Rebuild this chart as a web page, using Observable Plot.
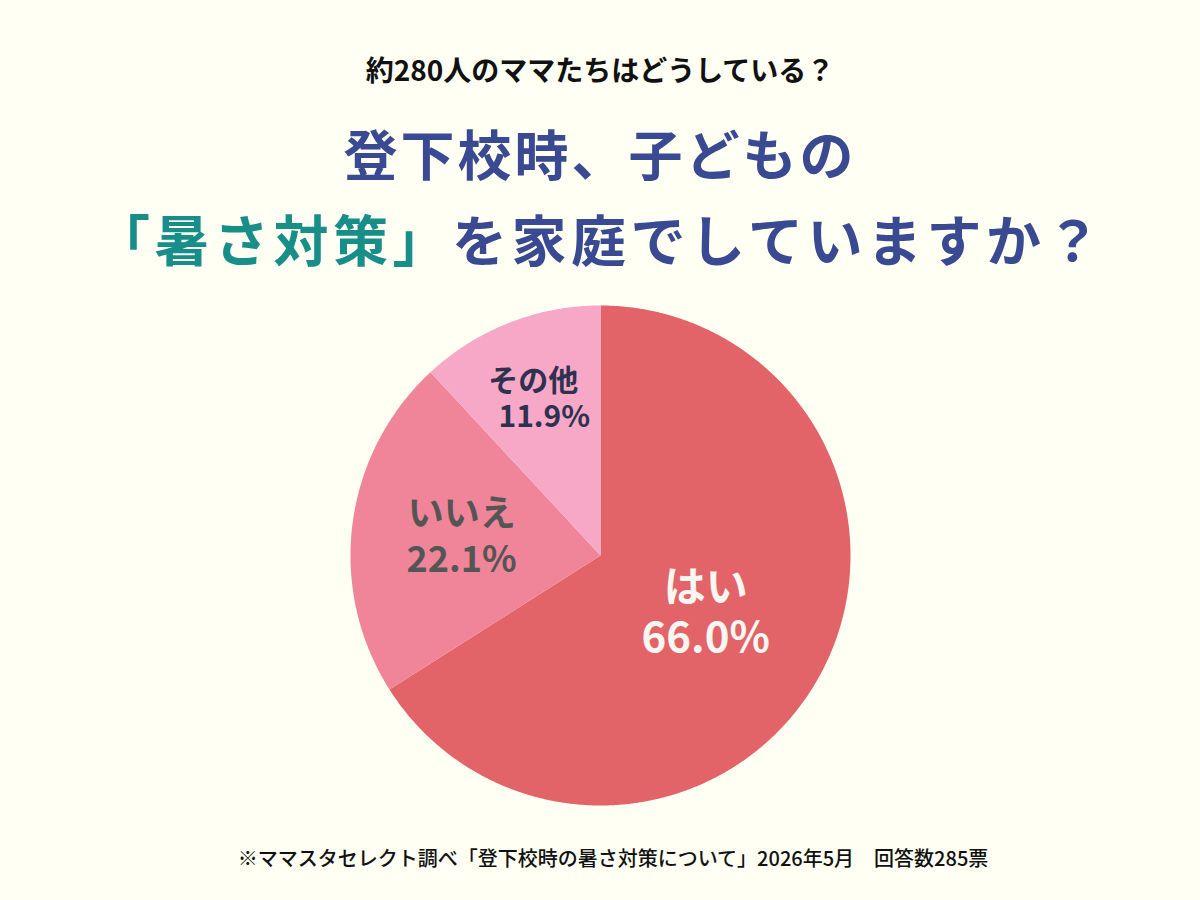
<!DOCTYPE html>
<html><head><meta charset="utf-8">
<script src="https://cdn.jsdelivr.net/npm/d3@7"></script>
<script src="https://cdn.jsdelivr.net/npm/@observablehq/plot@0.6"></script>
<style>
html,body{margin:0;padding:0;background:#FFFFF3;}
body{width:1200px;height:900px;position:relative;overflow:hidden;font-family:"Noto Sans CJK JP","Noto Sans",sans-serif;}
.t{position:absolute;left:0;width:1200px;text-align:center;white-space:nowrap;}
#sub{top:50px;font-size:28px;font-weight:700;color:#111;line-height:38px;}
#l1{top:117px;font-size:54px;font-weight:700;color:#3A4A92;line-height:72px;letter-spacing:3px;}
#l2{top:201px;font-size:55px;font-weight:700;color:#3A4A92;line-height:72px;letter-spacing:4.5px;}
#l2 .hl{color:#178F88;}
#chart{position:absolute;left:0;top:285px;}
#foot{top:843px;left:13px;font-size:20px;font-weight:500;color:#111;line-height:30px;}
</style></head>
<body>
<div class="t" id="sub">約280人のママたちはどうしている？</div>
<div class="t" id="l1">登下校時、子どもの</div>
<div class="t" id="l2"><span class="hl">「暑さ対策」</span>を家庭でしていますか？</div>
<div id="chart"></div>
<div class="t" id="foot">※ママスタセレクト調べ「登下校時の暑さ対策について」2026年5月　回答数285票</div>
<script>
const categories = ["はい", "いいえ", "その他"];
const values = [66.0, 22.1, 11.9];
const valueLabels = ["66.0%", "22.1%", "11.9%"];
const sliceColors = ["#E26368", "#F08599", "#F6A8C6"];
const labelColors = ["#F7F6F0", "#555555", "#2E3150"];
const labelSizes = [42, 36, 30];
const labelRadius = [0.48, 0.56, 0.67];
const lineGap = [50, 46, 36];
const nameShift = [0, 0, -6];
const valueShift = [0, 0, 5];

const arcs = d3.pie().sort(null).value(d => d)(values);
const slicePts = [];
arcs.forEach((a, i) => {
  slicePts.push({cat: categories[i], x: 0, y: 0});
  const n = Math.max(2, Math.ceil((a.endAngle - a.startAngle) / 0.005));
  for (let k = 0; k <= n; k++) {
    const t = a.startAngle + (a.endAngle - a.startAngle) * k / n;
    slicePts.push({cat: categories[i], x: Math.sin(t), y: Math.cos(t)});
  }
  slicePts.push({cat: categories[i], x: 0, y: 0});
});
const labels = arcs.map((a, i) => {
  const m = (a.startAngle + a.endAngle) / 2;
  return {name: categories[i], value: valueLabels[i], x: Math.sin(m) * labelRadius[i], y: Math.cos(m) * labelRadius[i]};
});

const plot = Plot.plot({
  width: 1200, height: 540,
  marginLeft: 350, marginRight: 350, marginTop: 20, marginBottom: 20,
  x: {domain: [-1, 1], axis: null},
  y: {domain: [-1, 1], axis: null},
  color: {domain: categories, range: sliceColors},
  style: {background: "transparent", fontFamily: "'Noto Sans CJK JP', 'Noto Sans', sans-serif"},
  marks: [
    Plot.line(slicePts, {x: "x", y: "y", z: "cat", fill: "cat", stroke: "none", curve: "linear"}),
    ...labels.flatMap((l, i) => [
      Plot.text([l], {x: "x", y: "y", text: "name", dx: nameShift[i], dy: -lineGap[i] / 2, fill: labelColors[i], fontSize: labelSizes[i], fontWeight: 700}),
      Plot.text([l], {x: "x", y: "y", text: "value", dx: valueShift[i], dy: lineGap[i] / 2, fill: labelColors[i], fontSize: labelSizes[i], fontWeight: 700})
    ])
  ]
});
document.getElementById("chart").appendChild(plot);
</script>
</body></html>
